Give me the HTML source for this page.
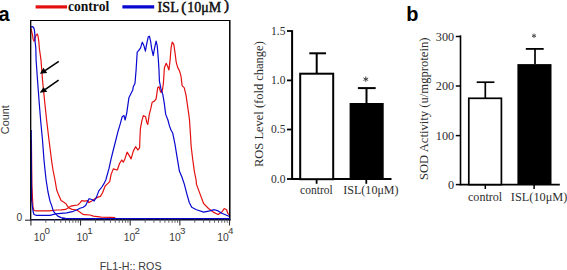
<!DOCTYPE html>
<html><head><meta charset="utf-8">
<style>
html,body{margin:0;padding:0;background:#fff;}
body{width:567px;height:270px;overflow:hidden;}
svg{display:block;}
.ax{font-family:"Liberation Sans",sans-serif;font-size:10.3px;fill:#3a3a3a;}
.sf{font-family:"Liberation Serif",serif;fill:#2e2e2e;}
.lgn{font-family:"Liberation Serif",serif;font-size:15px;fill:#111;stroke:#111;stroke-width:0.5px;}
.lg{font-family:"Liberation Serif",serif;font-weight:bold;font-size:13px;fill:#111;}
.pl{font-family:"Liberation Sans",sans-serif;font-weight:bold;font-size:20px;fill:#000;}
</style></head>
<body>
<svg width="567" height="270" viewBox="0 0 567 270">
<rect width="567" height="270" fill="#fff"/>
<!-- panel labels -->
<text x="-1.5" y="20.8" class="pl">a</text>
<text x="406.2" y="20.8" class="pl">b</text>
<!-- legend -->
<line x1="35.6" y1="6.9" x2="67" y2="6.9" stroke="#e41010" stroke-width="3.2"/>
<text x="67.9" y="11.2" class="lg" style="font-size:15.4px" textLength="41.4" lengthAdjust="spacingAndGlyphs">control</text>
<line x1="122.4" y1="6.9" x2="154.2" y2="6.9" stroke="#0808d0" stroke-width="3.2"/>
<text x="157.6" y="11.5" class="lgn" textLength="21.2" lengthAdjust="spacingAndGlyphs">ISL</text>
<text x="181.3" y="11.6" class="lgn" style="stroke-width:0.55px">(</text>
<text x="187.3" y="11.5" class="lgn" textLength="33.9" lengthAdjust="spacingAndGlyphs">10μM</text>
<text x="224" y="9.6" class="lgn" style="stroke-width:0.55px">)</text>
<!-- flow frame -->
<g fill="none" stroke-linejoin="round" stroke-width="1.2">
<polyline points="30.8,28.0 32.4,34.7 33.3,39.7 34.1,41.3 35.2,37.4 36.3,34.7 37.4,34.1 38.2,36.9 38.9,42.4 39.3,48.0 41.0,60.0 42.5,80.0 44.5,100.0 46.6,120.0 49.0,140.0 51.5,160.0 53.0,170.0 55.0,180.0 56.7,190.0 58.9,195.6 61.1,200.6 63.9,202.2 66.1,203.9 67.8,206.7 69.4,208.3 72.2,209.4 76.7,210.0 79.4,211.7 82.2,213.9 84.4,214.7 90.0,215.0 93.4,216.1 101.2,217.1 110.5,217.4 115.2,217.7" stroke="#e41010"/>
<polyline points="31.4,140.0 31.9,185.0 32.6,200.0 33.0,207.0 34.0,210.5 36.0,210.8 48.7,210.8 56.7,210.0 61.1,209.8 65.6,209.4 68.3,207.8 71.1,206.1 73.3,205.6 77.8,205.0 80.0,202.8 81.7,200.6 84.4,201.1 87.8,200.6 88.7,202.6 91.8,201.0 94.9,198.7 98.0,197.1 100.4,196.4 102.7,192.5 105.0,186.2 107.4,183.9 109.7,181.6 111.1,174.4 113.3,168.9 115.6,169.6 117.3,170.0 119.6,163.3 121.8,160.0 123.3,162.2 124.9,158.9 127.1,152.2 129.3,155.6 131.1,158.9 133.3,151.1 135.6,146.7 137.8,150.0 139.6,147.8 140.0,136.7 140.4,128.9 141.8,121.1 143.3,115.6 145.6,116.7 146.7,122.2 147.8,124.4 149.3,114.4 150.7,108.9 152.2,102.2 154.4,101.1 156.1,98.9 157.7,87.8 159.0,86.7 160.6,92.2 162.1,92.2 163.4,83.3 164.4,67.8 166.2,63.3 167.8,66.7 168.9,70.0 170.0,61.1 171.1,47.8 172.2,42.2 173.8,44.4 175.1,53.3 176.2,62.2 177.8,67.8 179.6,71.1 181.1,76.7 182.1,85.6 184.3,87.8 186.1,95.6 187.2,103.3 188.3,111.1 189.4,118.9 190.1,128.9 191.2,146.7 192.8,160.0 194.3,171.1 196.1,180.0 196.5,184.4 200.1,194.1 203.7,203.7 208.5,208.5 213.3,212.1 218.1,214.5 221.8,212.1 224.2,208.5 226.6,209.7 227.8,213.3 229.5,215.0" stroke="#e41010"/>
<polyline points="30.8,26.9 33.0,26.7 34.1,28.6 34.7,32.4 34.9,36.9 35.2,42.4 35.8,48.0 36.1,60.0 37.5,80.0 39.0,100.0 40.6,120.0 42.5,140.0 44.0,160.0 45.0,170.0 46.1,180.0 48.0,192.0 50.0,201.1 51.7,205.6 53.3,211.1 55.6,213.9 57.8,216.1 61.1,217.6 65.6,218.4 75.0,218.6 100.0,218.6" stroke="#0808d0"/>
<polyline points="31.2,130.0 31.6,200.0 32.6,208.0 33.2,212.0 34.0,214.5 36.0,215.3 50.0,215.3 55.6,213.9 61.1,213.3 66.7,212.8 72.2,211.7 76.7,210.0 80.0,208.3 83.3,207.2 85.6,205.6 87.2,202.2 88.9,198.9 89.5,198.7 91.8,199.5 94.1,201.0 96.5,197.1 98.8,190.9 101.9,187.0 104.3,183.1 105.8,180.0 108.9,168.9 111.1,158.9 113.3,150.0 115.6,141.0 117.8,132.2 120.4,123.3 122.2,116.7 124.0,115.6 125.1,120.0 126.7,113.3 127.8,105.6 128.9,97.8 131.1,93.3 132.8,90.0 133.3,86.7 135.0,83.3 136.1,70.0 137.2,52.2 138.8,50.4 140.6,47.8 142.3,42.2 143.9,45.6 145.4,51.1 146.8,43.3 148.3,36.7 149.4,36.2 150.6,41.1 151.7,48.9 153.2,55.6 154.6,47.8 156.1,41.1 157.2,45.6 158.3,58.9 159.0,70.0 159.4,81.1 161.2,90.0 162.8,94.4 164.3,103.3 165.7,114.4 167.9,120.0 169.4,125.6 171.0,130.0 172.8,133.3 175.0,144.4 177.2,157.8 179.4,171.1 182.0,177.2 184.4,184.4 186.9,194.1 189.3,202.5 191.7,207.3 196.5,209.7 203.7,212.1 209.7,210.9 214.5,209.7 218.1,210.9 221.8,213.3 227.8,215.7 229.5,216.5" stroke="#0808d0"/>
</g>
<line x1="30.7" y1="20.5" x2="229.8" y2="20.5" stroke="#000" stroke-width="1.1"/>
<line x1="30.7" y1="20" x2="30.7" y2="220.5" stroke="#000" stroke-width="1.3"/>
<line x1="229.8" y1="20" x2="229.8" y2="220.5" stroke="#000" stroke-width="1.5"/>
<line x1="62" y1="218.5" x2="230" y2="218.5" stroke="#0808d0" stroke-width="1.1"/>
<line x1="30" y1="219.8" x2="230.5" y2="219.8" stroke="#0a0a30" stroke-width="1.5"/>
<line x1="25" y1="220.2" x2="31" y2="220.2" stroke="#333" stroke-width="1.1"/>
<line x1="30.90" y1="219.5" x2="30.90" y2="225.5" stroke="#333" stroke-width="1.1"/><line x1="45.85" y1="219.5" x2="45.85" y2="222.8" stroke="#555" stroke-width="0.9"/><line x1="54.59" y1="219.5" x2="54.59" y2="222.8" stroke="#555" stroke-width="0.9"/><line x1="60.79" y1="219.5" x2="60.79" y2="222.8" stroke="#555" stroke-width="0.9"/><line x1="65.60" y1="219.5" x2="65.60" y2="222.8" stroke="#555" stroke-width="0.9"/><line x1="69.54" y1="219.5" x2="69.54" y2="222.8" stroke="#555" stroke-width="0.9"/><line x1="72.86" y1="219.5" x2="72.86" y2="222.8" stroke="#555" stroke-width="0.9"/><line x1="75.74" y1="219.5" x2="75.74" y2="222.8" stroke="#555" stroke-width="0.9"/><line x1="78.28" y1="219.5" x2="78.28" y2="222.8" stroke="#555" stroke-width="0.9"/><line x1="80.55" y1="219.5" x2="80.55" y2="225.5" stroke="#333" stroke-width="1.1"/><line x1="95.50" y1="219.5" x2="95.50" y2="222.8" stroke="#555" stroke-width="0.9"/><line x1="104.24" y1="219.5" x2="104.24" y2="222.8" stroke="#555" stroke-width="0.9"/><line x1="110.44" y1="219.5" x2="110.44" y2="222.8" stroke="#555" stroke-width="0.9"/><line x1="115.25" y1="219.5" x2="115.25" y2="222.8" stroke="#555" stroke-width="0.9"/><line x1="119.19" y1="219.5" x2="119.19" y2="222.8" stroke="#555" stroke-width="0.9"/><line x1="122.51" y1="219.5" x2="122.51" y2="222.8" stroke="#555" stroke-width="0.9"/><line x1="125.39" y1="219.5" x2="125.39" y2="222.8" stroke="#555" stroke-width="0.9"/><line x1="127.93" y1="219.5" x2="127.93" y2="222.8" stroke="#555" stroke-width="0.9"/><line x1="130.20" y1="219.5" x2="130.20" y2="225.5" stroke="#333" stroke-width="1.1"/><line x1="145.15" y1="219.5" x2="145.15" y2="222.8" stroke="#555" stroke-width="0.9"/><line x1="153.89" y1="219.5" x2="153.89" y2="222.8" stroke="#555" stroke-width="0.9"/><line x1="160.09" y1="219.5" x2="160.09" y2="222.8" stroke="#555" stroke-width="0.9"/><line x1="164.90" y1="219.5" x2="164.90" y2="222.8" stroke="#555" stroke-width="0.9"/><line x1="168.84" y1="219.5" x2="168.84" y2="222.8" stroke="#555" stroke-width="0.9"/><line x1="172.16" y1="219.5" x2="172.16" y2="222.8" stroke="#555" stroke-width="0.9"/><line x1="175.04" y1="219.5" x2="175.04" y2="222.8" stroke="#555" stroke-width="0.9"/><line x1="177.58" y1="219.5" x2="177.58" y2="222.8" stroke="#555" stroke-width="0.9"/><line x1="179.85" y1="219.5" x2="179.85" y2="225.5" stroke="#333" stroke-width="1.1"/><line x1="194.80" y1="219.5" x2="194.80" y2="222.8" stroke="#555" stroke-width="0.9"/><line x1="203.54" y1="219.5" x2="203.54" y2="222.8" stroke="#555" stroke-width="0.9"/><line x1="209.74" y1="219.5" x2="209.74" y2="222.8" stroke="#555" stroke-width="0.9"/><line x1="214.55" y1="219.5" x2="214.55" y2="222.8" stroke="#555" stroke-width="0.9"/><line x1="218.49" y1="219.5" x2="218.49" y2="222.8" stroke="#555" stroke-width="0.9"/><line x1="221.81" y1="219.5" x2="221.81" y2="222.8" stroke="#555" stroke-width="0.9"/><line x1="224.69" y1="219.5" x2="224.69" y2="222.8" stroke="#555" stroke-width="0.9"/><line x1="227.23" y1="219.5" x2="227.23" y2="222.8" stroke="#555" stroke-width="0.9"/><line x1="229.50" y1="219.5" x2="229.50" y2="225.5" stroke="#333" stroke-width="1.1"/>
<text x="16.4" y="220.7" class="ax">0</text>
<text x="33.8" y="240.7" class="ax">10</text><text x="44.5" y="234.3" class="ax" style="font-size:9.8px">0</text><text x="76.5" y="240.7" class="ax">10</text><text x="87.2" y="234.3" class="ax" style="font-size:9.8px">1</text><text x="123.8" y="240.7" class="ax">10</text><text x="134.5" y="234.3" class="ax" style="font-size:9.8px">2</text><text x="169.3" y="240.7" class="ax">10</text><text x="180.0" y="234.3" class="ax" style="font-size:9.8px">3</text><text x="217.2" y="240.7" class="ax">10</text><text x="227.9" y="234.3" class="ax" style="font-size:9.8px">4</text>
<text x="99.7" y="269.6" class="ax" style="font-size:10.2px" textLength="61.9" lengthAdjust="spacingAndGlyphs">FL1-H:: ROS</text>
<text transform="translate(8.9,134.2) rotate(-90)" class="ax" style="font-size:10.8px" textLength="29" lengthAdjust="spacingAndGlyphs">Count</text>
<!-- arrows -->
<g stroke="#000" stroke-width="1.6" fill="#000">
<line x1="58.8" y1="61.3" x2="45" y2="70.6"/>
<polygon points="39.9,73.7 43.4,67.7 47.2,72.9" stroke="none"/>
<line x1="58.6" y1="80.2" x2="45" y2="89.6"/>
<polygon points="39.7,92.7 43.5,87.3 47.3,91.7" stroke="none"/>
</g>

<!-- bar chart 1 -->
<g stroke="#000" fill="none">
<line x1="292.1" y1="30.2" x2="292.1" y2="180" stroke-width="2"/>
<line x1="291.1" y1="179" x2="391.5" y2="179" stroke-width="2"/>
<line x1="287" y1="31" x2="292" y2="31" stroke-width="1.8"/>
<line x1="287" y1="80.4" x2="292" y2="80.4" stroke-width="1.8"/>
<line x1="287" y1="129.5" x2="292" y2="129.5" stroke-width="1.8"/>
<line x1="287" y1="179" x2="292" y2="179" stroke-width="1.8"/>
<line x1="316.6" y1="179" x2="316.6" y2="183.8" stroke-width="1.8"/>
<line x1="366.3" y1="179" x2="366.3" y2="183.8" stroke-width="1.8"/>
<rect x="300.2" y="73.7" width="33" height="105.5" stroke-width="2" fill="#fff"/>
<line x1="316.7" y1="73" x2="316.7" y2="53.3" stroke-width="2"/>
<line x1="309.3" y1="53.3" x2="326" y2="53.3" stroke-width="2"/>
<rect x="349.6" y="103" width="34.1" height="76" fill="#000" stroke="none"/>
<line x1="366.5" y1="103" x2="366.5" y2="88.1" stroke-width="2"/>
<line x1="357.9" y1="88.1" x2="375.7" y2="88.1" stroke-width="2"/>
</g>
<g stroke="#333" stroke-width="0.9" stroke-linecap="round"><line x1="365.8" y1="76.9" x2="365.8" y2="81.5"/><line x1="363.8" y1="78.1" x2="367.8" y2="80.3"/><line x1="363.8" y1="80.3" x2="367.8" y2="78.1"/></g>
<g class="sf" font-size="11.5px">
<text x="285.4" y="35" text-anchor="end">1.5</text>
<text x="285.4" y="84.2" text-anchor="end">1.0</text>
<text x="285.4" y="133.3" text-anchor="end">0.5</text>
<text x="285.4" y="182.9" text-anchor="end">0.0</text>
<text x="300.1" y="194.4" textLength="32.6" lengthAdjust="spacingAndGlyphs">control</text>
<text x="343.3" y="194.4" textLength="55.3" lengthAdjust="spacingAndGlyphs">ISL(10μM)</text>
<text transform="translate(262.8,167) rotate(-90)" font-size="12.2px" textLength="125.8" lengthAdjust="spacingAndGlyphs">ROS Level (fold change)</text>
</g>

<!-- bar chart 2 -->
<g stroke="#000" fill="none">
<line x1="460.5" y1="35.3" x2="460.5" y2="185.3" stroke-width="1.6"/>
<line x1="459.8" y1="184.6" x2="559.8" y2="184.6" stroke-width="1.6"/>
<line x1="455.8" y1="36.5" x2="460" y2="36.5" stroke-width="1.5"/>
<line x1="455.8" y1="86" x2="460" y2="86" stroke-width="1.5"/>
<line x1="455.8" y1="135.6" x2="460" y2="135.6" stroke-width="1.5"/>
<line x1="455.8" y1="184.6" x2="460" y2="184.6" stroke-width="1.5"/>
<line x1="485.3" y1="184.6" x2="485.3" y2="189" stroke-width="1.5"/>
<line x1="534.1" y1="184.6" x2="534.1" y2="189" stroke-width="1.5"/>
<rect x="468.8" y="98.3" width="32.6" height="86.3" stroke-width="1.7" fill="#fff"/>
<line x1="485.3" y1="98" x2="485.3" y2="82.2" stroke-width="1.7"/>
<line x1="476.7" y1="82.2" x2="494.4" y2="82.2" stroke-width="1.7"/>
<rect x="517.4" y="64.1" width="34.1" height="120.5" fill="#000" stroke="none"/>
<line x1="535" y1="64.1" x2="535" y2="48.9" stroke-width="1.7"/>
<line x1="525.8" y1="48.9" x2="543.7" y2="48.9" stroke-width="1.8"/>
</g>
<g stroke="#555" stroke-width="1" stroke-linecap="round"><line x1="534" y1="33.9" x2="534" y2="37.7"/><line x1="532.3" y1="34.9" x2="535.7" y2="36.7"/><line x1="532.3" y1="36.7" x2="535.7" y2="34.9"/></g>
<g class="sf" font-size="12.2px">
<text x="454.1" y="40.7" text-anchor="end">300</text>
<text x="454.1" y="90.2" text-anchor="end">200</text>
<text x="454.1" y="139.8" text-anchor="end">100</text>
<text x="454.1" y="188.8" text-anchor="end">0</text>
<text x="468" y="200.8" textLength="34.2" lengthAdjust="spacingAndGlyphs">control</text>
<text x="510.8" y="200.8" textLength="56.6" lengthAdjust="spacingAndGlyphs">ISL(10μM)</text>
<text transform="translate(427.8,180.1) rotate(-90)" textLength="142.6" lengthAdjust="spacingAndGlyphs">SOD Activity (u/mgprotein)</text>
</g>
</svg>
</body></html>
